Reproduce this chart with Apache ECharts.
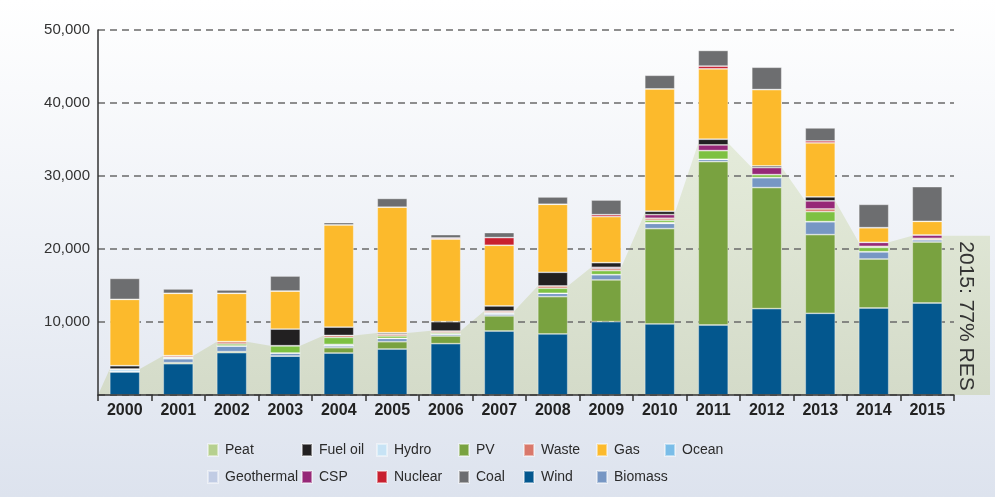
<!DOCTYPE html>
<html><head><meta charset="utf-8">
<script src="https://cdn.jsdelivr.net/npm/echarts@6/dist/echarts.min.js"></script>
<style>html,body{margin:0;padding:0;}#c{width:995px;height:497px;}</style>
</head><body><div id="c"></div>
<script>
const years = ['2000','2001','2002','2003','2004','2005','2006','2007','2008','2009','2010','2011','2012','2013','2014','2015'];
const wind       = [3190,4290,5800,5340,5750,6300,7030,8770,8360,10050,9730,9590,11830,11190,11920,12600];
const pv         = [0,140,140,0,730,1000,1050,2060,5110,5710,13060,22380,16580,10780,6710,8360];
const biomass    = [0,550,780,410,270,460,270,270,460,730,730,320,1370,1780,1000,320];
const geothermal = [0,0,0,0,0,0,0,0,0,0,0,0,0,0,0,0];
const ocean      = [0,0,0,0,0,0,0,0,0,0,0,0,0,0,0,0];
const hydro      = [370,180,0,0,180,0,0,180,0,0,100,0,0,0,0,0];
const peat       = [0,0,270,1000,960,320,180,0,690,550,320,1190,410,1370,590,0];
const waste      = [0,230,320,0,270,270,230,230,320,270,270,0,0,370,140,180];
const csp        = [0,0,0,0,0,0,0,0,0,180,500,780,960,1100,550,460];
const fuelOil    = [450,0,0,2280,1140,180,1280,690,1870,640,460,780,230,550,0,0];
const gas        = [9090,8540,6620,5210,14000,17200,11330,8310,9320,6300,16760,9640,10460,7400,2010,1870];
const nuclear    = [0,0,0,0,0,0,140,1050,0,270,0,370,0,270,0,0];
const coal       = [2880,600,460,2060,320,1200,460,690,1000,2010,1870,2150,3060,1780,3200,4750];
const resTotal   = [3560,5390,7310,6750,8160,8500,8800,11510,14940,17490,24900,34500,31150,26590,20910,21800];
const resLabel   = '2015: 77% RES';
const yTicks     = [0,10000,20000,30000,40000,50000];

const W = 995, H = 497;
const gridLeft = 98, gridRight = 41, gridTop = 30, gridBottom = 102, areaRight = 5;
const barW = 30;
const unitPx = (W - gridLeft - gridRight) / years.length;
const areaMax = (W - gridLeft - areaRight) / unitPx;
const half = (barW / 2) / unitPx;

const areaData = [[0, 0]];
resTotal.forEach((v, i) => { areaData.push([i + 0.5 - half, v]); areaData.push([i + 0.5 + half, v]); });
areaData.push([areaMax, resTotal[resTotal.length - 1]]);

const seriesDefs = [
  ['Wind', wind, '#03578e'],
  ['PV', pv, '#79a240'],
  ['Biomass', biomass, '#7797c4'],
  ['Geothermal', geothermal, '#c1cce4'],
  ['Ocean', ocean, '#7abde8'],
  ['Hydro', hydro, '#c7e3f5'],
  ['Peat', peat, '#7dc142'],
  ['Waste', waste, '#d9786b'],
  ['CSP', csp, '#962877'],
  ['Fuel oil', fuelOil, '#222021'],
  ['Gas', gas, '#fcba2c'],
  ['Nuclear', nuclear, '#c8202f'],
  ['Coal', coal, '#6d6e70']
];
const colorOf = {};
seriesDefs.forEach(d => colorOf[d[0]] = d[2]);

const series = [{
  type: 'line', xAxisIndex: 1, yAxisIndex: 1, data: areaData, showSymbol: false, symbol: 'none',
  lineStyle: { width: 0 }, silent: true, z: 1,
  areaStyle: { opacity: 1, color: { type: 'linear', x: 0, y: 0, x2: 0, y2: 1,
    colorStops: [{ offset: 0, color: '#e4ebda' }, { offset: 1, color: '#d4dbc9' }] } }
}];
seriesDefs.forEach(d => series.push({
  name: d[0], type: 'bar', stack: 'total', data: d[1], barWidth: barW, z: 5,
  xAxisIndex: 0, yAxisIndex: 0,
  itemStyle: { color: d[2], borderColor: 'rgba(255,255,255,0.45)', borderWidth: 0.8 }
}));

const legendCols = [
  ['Peat', 'Geothermal'], ['Fuel oil', 'CSP'], ['Hydro', 'Nuclear'], ['PV', 'Coal'],
  ['Waste', 'Wind'], ['Gas', 'Biomass'], ['Ocean']
];
const legendLeft = [207, 301, 376, 458, 523, 596, 664];
const legendSwatch = { 'Peat': '#b6d08f' };
const legends = legendCols.map((col, i) => ({
  orient: 'vertical', left: legendLeft[i], top: 443, padding: 0, itemWidth: 10, itemHeight: 12, itemGap: 13,
  icon: 'rect', selectedMode: false,
  textStyle: { fontSize: 14, color: '#2b2b2b', fontFamily: "'Liberation Sans', Arial, sans-serif", padding: [0, 0, 0, 2] },
  data: col.map(n => ({ name: n, itemStyle: { color: legendSwatch[n] || colorOf[n] } }))
}));

const chart = echarts.init(document.getElementById('c'), null, { renderer: 'canvas' });
chart.setOption({
  animation: false,
  backgroundColor: { type: 'linear', x: 0, y: 0, x2: 0, y2: 1,
    colorStops: [{ offset: 0, color: '#ffffff' }, { offset: 1, color: '#dde3ee' }] },
  textStyle: { fontFamily: "'Liberation Sans', Arial, sans-serif" },
  grid: [
    { left: gridLeft, right: gridRight, top: gridTop, bottom: gridBottom },
    { left: gridLeft, right: areaRight, top: gridTop, bottom: gridBottom }
  ],
  legend: legends,
  xAxis: [
    { type: 'category', gridIndex: 0, data: years, z: 6,
      axisLine: { lineStyle: { color: '#333', width: 1.5 } },
      axisTick: { show: true, length: 6, lineStyle: { color: '#333', width: 1.5 } },
      axisLabel: { fontSize: 16, fontWeight: 'bold', color: '#222', margin: 8 } },
    { type: 'value', gridIndex: 1, min: 0, max: areaMax, show: false }
  ],
  yAxis: [
    { type: 'value', gridIndex: 0, min: yTicks[0], max: yTicks[yTicks.length - 1], interval: yTicks[1] - yTicks[0], z: 3,
      axisLine: { show: true, lineStyle: { color: '#333', width: 1.5 } },
      axisTick: { show: false },
      axisLabel: { fontSize: 15, color: '#333', margin: 8, showMinLabel: false,
        formatter: v => v === 0 ? '' : echarts.format.addCommas(v) },
      splitLine: { show: true, lineStyle: { color: '#6a6a6a', type: [7, 5], width: 1.5 } } },
    { type: 'value', gridIndex: 1, min: yTicks[0], max: yTicks[yTicks.length - 1], show: false }
  ],
  graphic: [{
    type: 'text', x: 966, y: 316, rotation: -Math.PI / 2, z: 10,
    style: { text: resLabel, fontSize: 21, fill: '#333', textAlign: 'center', textVerticalAlign: 'middle',
      fontFamily: "'Liberation Sans', Arial, sans-serif" }
  }],
  series: series
});
</script></body></html>
